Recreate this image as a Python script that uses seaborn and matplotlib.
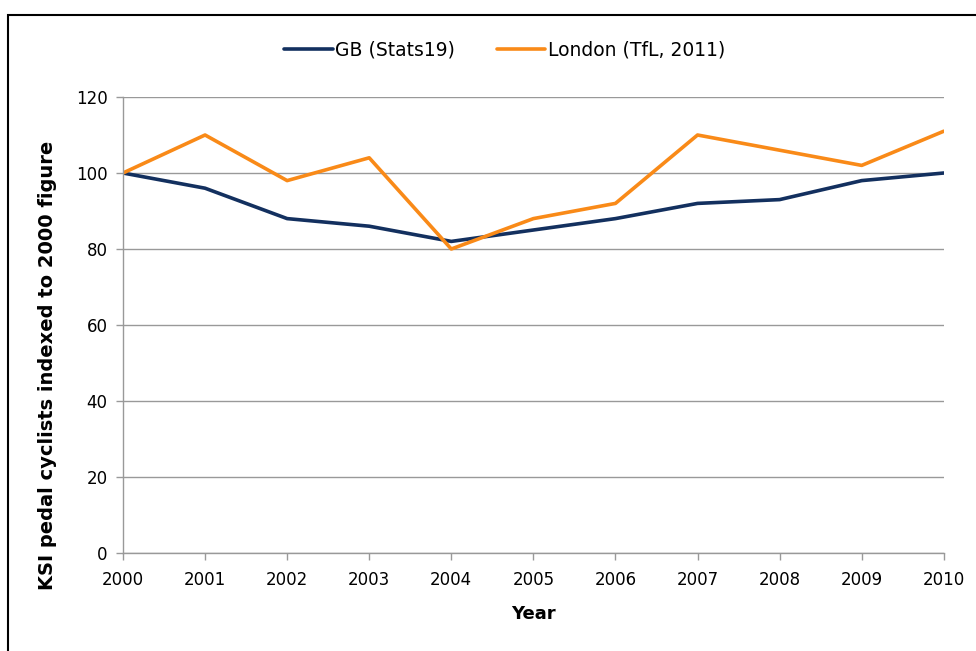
import pandas as pd
import matplotlib.pyplot as plt
import seaborn as sns
from matplotlib.patches import Rectangle

years = [2000, 2001, 2002, 2003, 2004, 2005, 2006, 2007, 2008, 2009, 2010]
gb_stats19 = [100, 96, 88, 86, 82, 85, 88, 92, 93, 98, 100]
london_tfl = [100, 110, 98, 104, 80, 88, 92, 110, 106, 102, 111]
series_names = ["GB (Stats19)", "London (TfL, 2011)"]
series_colors = ["#13305F", "#F98A18"]


def main():
    df = pd.DataFrame({
        "Year": years * 2,
        "value": gb_stats19 + london_tfl,
        "series": [series_names[0]] * len(years) + [series_names[1]] * len(years),
    })

    sns.set_style("white", {"xtick.bottom": True, "ytick.left": True,
                            "text.color": "black", "axes.labelcolor": "black"})
    plt.rcParams["font.family"] = ["DejaVu Sans"]

    fig = plt.figure(figsize=(9.76, 6.51), dpi=100)
    ax = fig.add_axes([0.126, 0.1505, 0.841, 0.7005])

    sns.lineplot(
        data=df, x="Year", y="value", hue="series",
        palette=dict(zip(series_names, series_colors)),
        linewidth=2.6, ax=ax,
    )

    ax.set_xlim(2000, 2010)
    ax.set_ylim(0, 120)
    ax.set_xticks(years)
    ax.set_yticks(range(0, 121, 20))
    ax.tick_params(axis="both", labelsize=12, colors="#999999", labelcolor="black",
                   length=5, width=1, direction="out")
    ax.tick_params(axis="x", pad=8)
    ax.tick_params(axis="y", pad=6)
    ax.grid(axis="y", color="#999999", linewidth=1)
    ax.grid(axis="x", visible=False)
    ax.set_axisbelow(True)
    for side in ["top", "right"]:
        ax.spines[side].set_visible(False)
    for side in ["left", "bottom"]:
        ax.spines[side].set_color("#999999")
        ax.spines[side].set_linewidth(1)

    ax.set_xlabel("Year", fontsize=13, fontweight="bold", color="black")
    ax.set_ylabel("KSI pedal cyclists indexed to 2000 figure", fontsize=14,
                  fontweight="bold", color="black")
    ax.xaxis.set_label_coords(0.5, -(605 - 553) / 456)
    ax.yaxis.set_label_coords(-(123 - 57) / 821, (553 - 365) / 456)

    handles, labels = ax.get_legend_handles_labels()
    ax.legend(handles, labels, loc="center",
              bbox_to_anchor=(0.465, (1 - 50 / 651 - 0.1505) / 0.7005),
              bbox_transform=ax.transAxes, ncol=2, frameon=False, fontsize=13.5,
              handlelength=2.6, handletextpad=0.15, columnspacing=2.2)
    for text in ax.get_legend().get_texts():
        text.set_color("black")

    fig.patches.append(Rectangle((8 / 976, -0.1), 1.2, 1 - 15 / 651 + 0.1,
                                 transform=fig.transFigure, fill=False,
                                 edgecolor="black", linewidth=1.5))

    fig.savefig("out.png", dpi=100)


if __name__ == "__main__":
    main()
